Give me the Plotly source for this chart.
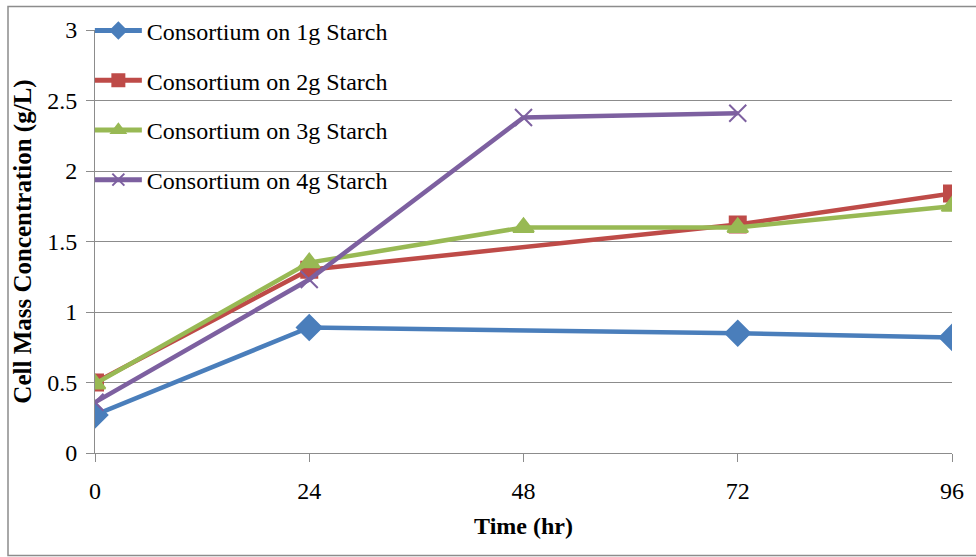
import plotly.graph_objects as go

# Sampling times (hr)
time_1g = [0, 24, 72, 96]
time_2g = [0, 24, 72, 96]
time_3g = [0, 24, 48, 72, 96]
time_4g = [0, 24, 48, 72]

# Cell mass concentration (g/L)
cells_1g = [0.27, 0.89, 0.85, 0.82]
cells_2g = [0.50, 1.30, 1.62, 1.84]
cells_3g = [0.49, 1.35, 1.60, 1.60, 1.75]
cells_4g = [0.36, 1.23, 2.38, 2.41]

x_ticks = [0, 24, 48, 72, 96]
y_ticks = [0, 0.5, 1, 1.5, 2, 2.5, 3]
y_tick_text = ["0", "0.5", "1", "1.5", "2", "2.5", "3"]

series = [
    ("Consortium on 1g Starch", time_1g, cells_1g, "#4A7EBB", "diamond", 19),
    ("Consortium on 2g Starch", time_2g, cells_2g, "#BE4B48", "square", 16),
    ("Consortium on 3g Starch", time_3g, cells_3g, "#98B954", "triangle-up", 18),
    ("Consortium on 4g Starch", time_4g, cells_4g, "#7D60A0", "x-thin-open", 17),
]

FONT = "Liberation Serif"
GREY = "#8c8c8c"

fig = go.Figure()
for i, (name, xs, ys, color, symbol, size) in enumerate(series):
    fig.add_trace(go.Scatter(
        x=xs, y=ys, name=name, mode="lines+markers",
        legendgroup=f"g{i}",
        line=dict(color=color, width=4.5),
        marker=dict(symbol=symbol, size=size, color=color,
                    line=dict(color=color, width=2)),
    ))

fig.update_layout(
    width=976, height=557,
    margin=dict(l=95, r=24, t=30, b=104, autoexpand=False),
    paper_bgcolor="white", plot_bgcolor="white",
    font=dict(family=FONT, size=24, color="black"),
    showlegend=True,
    legend=dict(
        x=-0.006, y=1.051, xanchor="left", yanchor="top",
        bgcolor="rgba(0,0,0,0)", borderwidth=0,
        traceorder="grouped", tracegroupgap=15.5,
        font=dict(family=FONT, size=24, color="black"),
        itemwidth=47, itemsizing="constant",
    ),
    xaxis=dict(
        range=[0, 96], tickvals=x_ticks, ticktext=[str(v) for v in x_ticks],
        showgrid=False, zeroline=False,
        showline=True, linecolor=GREY, linewidth=1,
        ticks="outside", ticklen=8, tickcolor=GREY,
        tickfont=dict(family=FONT, size=24),
        ticklabelstandoff=8,
        title=dict(text="<b>Time (hr)</b>", font=dict(family=FONT, size=24), standoff=14),
    ),
    yaxis=dict(
        range=[0, 3], tickvals=y_ticks, ticktext=y_tick_text,
        showgrid=True, gridcolor=GREY, gridwidth=1,
        zeroline=False,
        showline=True, linecolor=GREY, linewidth=1,
        ticks="outside", ticklen=8, tickcolor=GREY,
        tickfont=dict(family=FONT, size=24),
        ticklabelstandoff=4,
        title=dict(text="<b>Cell Mass Concentration (g/L)</b>",
                   font=dict(family=FONT, size=25), standoff=8),
    ),
)

# Outer chart frame
fig.add_shape(
    type="rect", xref="paper", yref="paper",
    x0=(8 - 95) / 857, x1=(990 - 95) / 857,
    y0=(453 - 555.5) / 423, y1=(453 - 6.5) / 423,
    line=dict(color=GREY, width=1.5), fillcolor="rgba(0,0,0,0)",
    layer="below",
)

fig.write_html("out.html")
